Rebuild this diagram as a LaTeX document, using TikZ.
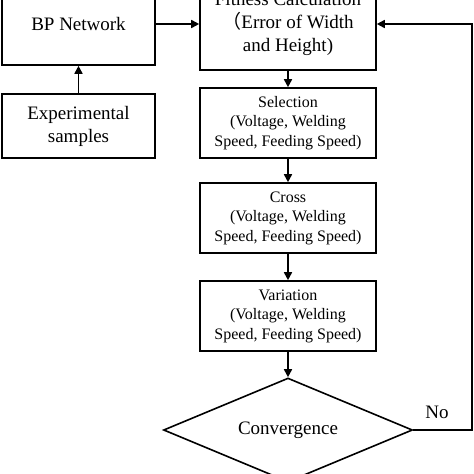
\documentclass[tikz,border=0pt]{standalone}
\usepackage{fontspec}
\setmainfont{Liberation Serif}
\newfontfamily\cjk{Noto Sans CJK SC}
\usetikzlibrary{arrows.meta,shapes.geometric}
\begin{document}
\begin{tikzpicture}[x={(1pt,0)},y={(0,-1pt)},
  box/.style={draw,line width=1.6pt,inner sep=0pt,align=center},
  bigtxt/.style={font=\fontsize{19}{23}\selectfont},
  smalltxt/.style={font=\fontsize{16}{19.5}\selectfont},
  arr/.style={line width=1.6pt,-{Triangle[length=8pt,width=8pt]}}]
\useasboundingbox (0,0) rectangle (474,474);
\clip (0,0) rectangle (474,474);
\node[box,bigtxt,minimum width=153pt,minimum height=82pt] (bp) at (78.5,24) {BP Network};
\node[box,bigtxt,minimum width=153pt,minimum height=64pt] (exp) at (78.5,126) {Experimental\\samples};
\node[box,bigtxt,minimum width=176pt,minimum height=92pt] (fit) at (288,24) {Fitness Calculation\\{\cjk （}Error of Width\\and Height)};
\node[box,smalltxt,minimum width=176pt,minimum height=70pt] (sel) at (288,123) {Selection\\(Voltage, Welding\\Speed, Feeding Speed)};
\node[box,smalltxt,minimum width=176pt,minimum height=70pt] (cro) at (288,218) {Cross\\(Voltage, Welding\\Speed, Feeding Speed)};
\node[box,smalltxt,minimum width=176pt,minimum height=70pt] (var) at (288,316) {Variation\\(Voltage, Welding\\Speed, Feeding Speed)};
\node[diamond,draw,line width=1.6pt,inner sep=0pt,minimum width=249pt,minimum height=104pt,aspect=2.39,bigtxt] (conv) at (288,430) {Convergence};
\node[bigtxt] (no) at (437,412) {No};
\coordinate (r1) at (472,430);
\coordinate (r2) at (472,24);
\draw[arr] (exp) -- (bp);
\draw[arr] (bp) -- (fit);
\draw[arr] (fit) -- (sel);
\draw[arr] (sel) -- (cro);
\draw[arr] (cro) -- (var);
\draw[arr] (var) -- (conv);
\draw[arr] (conv.east) -- (r1) -- (r2) -- (fit.east);
\end{tikzpicture}
\end{document}
